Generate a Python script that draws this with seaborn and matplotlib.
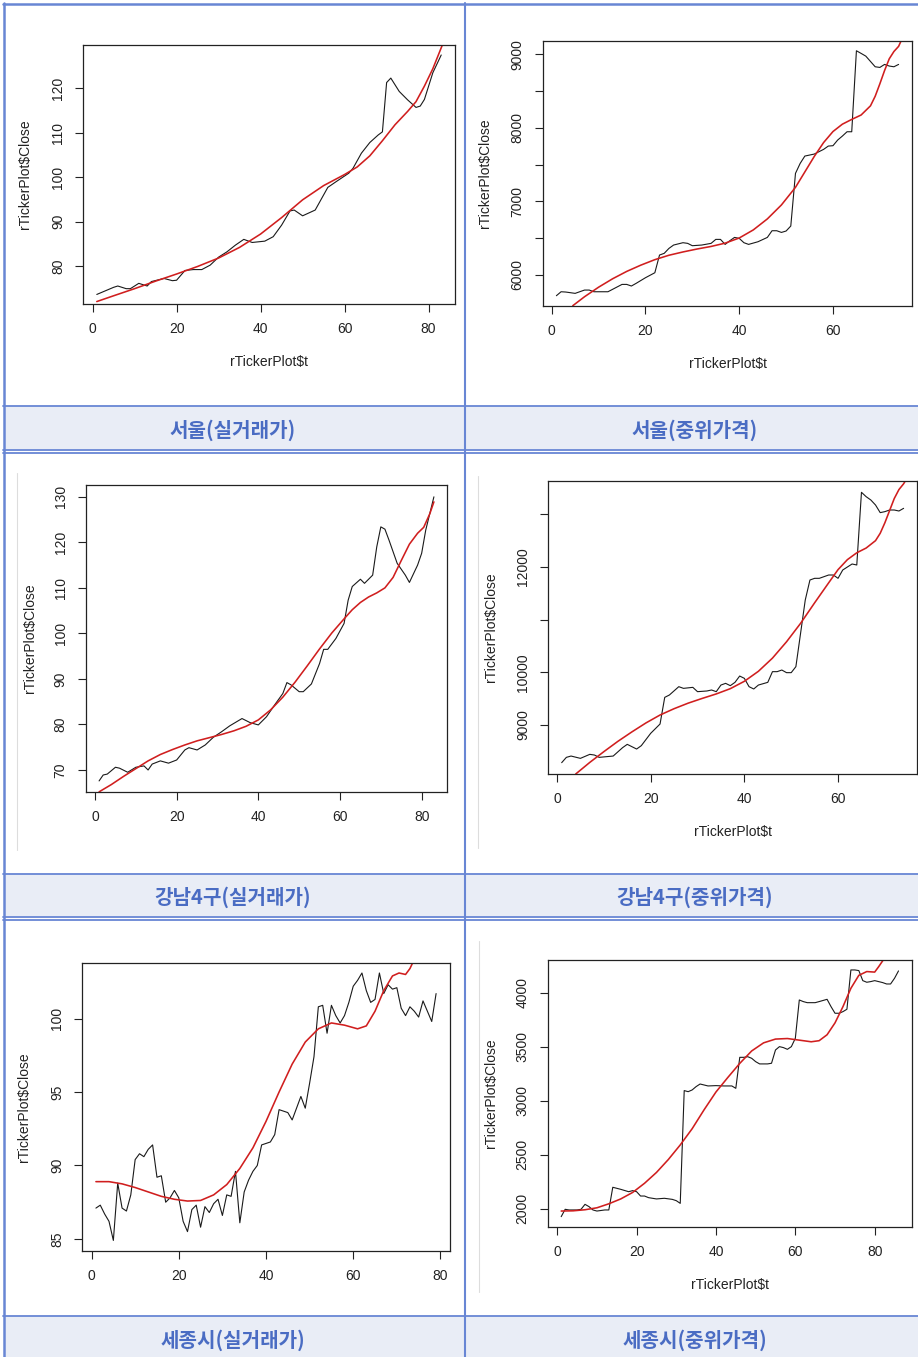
import matplotlib
matplotlib.use("Agg")
import matplotlib.pyplot as plt
import seaborn as sns
import pandas as pd
from matplotlib.lines import Line2D
from matplotlib.patches import Rectangle

# ---------------- data ----------------
# 서울(실거래가)
p1_t = [1, 3, 5, 6, 8, 9, 11, 13, 14, 17, 19, 20, 22, 24, 26, 28, 30, 32, 34, 36, 38, 41, 43, 45, 47, 48,
        50, 53, 56, 58, 61, 62, 64, 66, 68, 69, 70, 71, 73, 75, 77, 78, 79, 81, 83]
p1_close = [73.6, 74.4, 75.2, 75.5, 74.9, 74.9, 76.1, 75.5, 76.5, 77.2, 76.7, 76.8, 79.0, 79.2, 79.2, 80.2,
            82.0, 83.2, 84.7, 86.0, 85.3, 85.6, 86.6, 89.2, 92.4, 92.6, 91.3, 92.6, 97.7, 99.0, 100.9, 102.0,
            105.4, 107.8, 109.5, 110.2, 121.3, 122.3, 119.3, 117.4, 115.7, 116.0, 117.5, 123.5, 127.5]
p1_fit_t = [1, 5, 10, 15, 20, 25, 30, 35, 40, 45, 50, 55, 60, 63, 66, 69, 72, 75, 77, 79, 81, 83.5]
p1_fit = [72.0, 73.3, 74.9, 76.6, 78.2, 79.9, 81.8, 84.2, 87.2, 90.9, 94.9, 98.1, 100.6, 102.3, 104.8,
          108.2, 111.8, 114.8, 117.0, 120.5, 124.4, 130.3]

# 서울(중위가격)
p2_t = [1, 2, 3, 5, 7, 8, 9, 12, 15, 16, 17, 18, 20, 22, 23, 24, 25, 26, 28, 29, 30, 32, 34, 35, 36, 37, 38,
        39, 40, 41, 42, 44, 46, 47, 48, 49, 50, 51, 52, 53, 54, 56, 58, 59, 60, 61, 62, 63, 64, 65, 66, 67,
        69, 70, 71, 72, 73, 74]
p2_close = [5714, 5768, 5764, 5746, 5791, 5791, 5768, 5768, 5868, 5868, 5846, 5882, 5959, 6027, 6268, 6291,
            6358, 6404, 6436, 6427, 6395, 6404, 6427, 6481, 6481, 6413, 6463, 6508, 6495, 6436, 6413, 6449,
            6508, 6599, 6599, 6576, 6595, 6663, 7380, 7516, 7616, 7643, 7707, 7752, 7757, 7834, 7888, 7947,
            7947, 9050, 9014, 8977, 8832, 8823, 8864, 8842, 8832, 8864]
p2_fit_t = [4.5, 7, 10, 13, 16, 19, 22, 25, 28, 31, 34, 37, 40, 43, 46, 49, 52, 54, 56, 58, 60, 62, 64, 66,
            68, 69, 70, 71, 72, 73, 74, 74.6]
p2_fit = [5578, 5700, 5830, 5945, 6045, 6130, 6205, 6265, 6310, 6350, 6385, 6430, 6500, 6610, 6760, 6950,
          7190, 7400, 7610, 7800, 7950, 8050, 8115, 8175, 8300, 8430, 8600, 8780, 8940, 9040, 9110, 9195]

# 강남4구(실거래가)
p3_t = [1, 2, 3, 5, 6, 8, 10, 12, 13, 14, 16, 18, 20, 22, 23, 25, 27, 29, 31, 33, 36, 38, 40, 42, 44, 46,
        47, 48, 50, 51, 53, 55, 56, 57, 59, 61, 62, 63, 65, 66, 68, 69, 70, 71, 72, 74, 76, 77, 79, 80, 81, 83]
p3_close = [67.6, 68.9, 69.1, 70.6, 70.4, 69.5, 70.6, 70.9, 70.0, 71.3, 72.0, 71.5, 72.2, 74.4, 74.9, 74.4,
            75.5, 77.2, 78.4, 79.7, 81.3, 80.4, 79.9, 81.7, 84.3, 86.8, 89.2, 88.7, 87.2, 87.2, 88.9, 93.4,
            96.5, 96.5, 98.9, 102.2, 107.3, 110.3, 111.9, 111.0, 112.8, 119.0, 123.4, 122.9, 120.5, 115.4,
            112.8, 111.2, 115.0, 117.6, 122.7, 130.0]
p3_fit_t = [1, 4, 7, 10, 13, 16, 19, 22, 25, 28, 31, 34, 37, 40, 43, 46, 49, 52, 55, 58, 61, 63, 65, 67, 69,
            71, 73, 75, 77, 79, 80.5, 82, 83]
p3_fit = [65.2, 66.8, 68.6, 70.3, 72.0, 73.4, 74.5, 75.5, 76.4, 77.1, 77.8, 78.6, 79.6, 81.0, 83.2, 86.0,
          89.3, 92.9, 96.6, 100.1, 103.2, 105.2, 106.8, 108.0, 108.9, 110.0, 112.3, 116.0, 119.6, 122.0,
          123.3, 126.3, 128.9]

# 강남4구(중위가격)
p4_t = [1, 2, 3, 5, 7, 8, 9, 12, 14, 15, 17, 18, 20, 22, 23, 24, 26, 27, 29, 30, 32, 33, 34, 35, 36, 37, 38,
        39, 40, 41, 42, 43, 45, 46, 47, 48, 49, 50, 51, 53, 54, 55, 56, 58, 59, 60, 61, 63, 64, 65, 66, 67,
        68, 69, 70, 71, 72, 73, 74]
p4_close = [8285, 8386, 8411, 8367, 8443, 8430, 8386, 8411, 8570, 8633, 8544, 8608, 8842, 9019, 9525, 9570,
            9728, 9696, 9715, 9633, 9646, 9665, 9633, 9759, 9791, 9747, 9810, 9930, 9886, 9728, 9684, 9759,
            9810, 10013, 10013, 10044, 9994, 9994, 10108, 11373, 11753, 11785, 11785, 11848, 11848, 11785,
            11943, 12057, 12038, 13418, 13335, 13272, 13177, 13032, 13051, 13082, 13082, 13063, 13114]
p4_fit_t = [4, 7, 10, 13, 16, 19, 22, 25, 28, 31, 34, 37, 40, 43, 46, 49, 52, 55, 58, 60, 62, 64, 66, 68,
            69, 70, 71, 72, 73, 74, 74.4]
p4_fit = [8070, 8290, 8494, 8690, 8870, 9040, 9190, 9310, 9415, 9505, 9590, 9690, 9830, 10020, 10270, 10580,
          10930, 11320, 11700, 11950, 12140, 12270, 12360, 12500, 12640, 12840, 13070, 13300, 13470, 13580,
          13640]

# 세종시(실거래가)
p5_t = list(range(1, 80))
p5_close = [87.1, 87.3, 86.7, 86.2, 84.9, 88.8, 87.1, 86.9, 88.0, 90.4, 90.8, 90.6, 91.1, 91.4, 89.2, 89.3,
            87.5, 87.8, 88.3, 87.8, 86.2, 85.5, 87.0, 87.3, 85.8, 87.2, 86.8, 87.4, 87.7, 86.6, 88.0, 87.9,
            89.6, 86.1, 88.2, 89.0, 89.6, 90.0, 91.4, 91.5, 91.6, 92.1, 93.8, 93.7, 93.6, 93.1, 93.9, 94.7,
            93.9, 95.6, 97.4, 100.8, 100.9, 99.0, 100.9, 100.2, 99.7, 100.2, 101.1, 102.2, 102.6, 103.1,
            101.9, 101.1, 101.3, 103.1, 101.7, 102.3, 102.0, 102.1, 100.7, 100.2, 100.8, 100.5, 100.1, 101.2,
            100.5, 99.8, 101.7]
p5_fit_t = [1, 4, 7, 10, 13, 16, 19, 22, 25, 28, 31, 34, 37, 40, 43, 46, 49, 52, 55, 58, 61, 63, 65, 67, 69,
            70.5, 72, 73, 73.8]
p5_fit = [88.9, 88.9, 88.75, 88.5, 88.2, 87.9, 87.7, 87.58, 87.62, 88.0, 88.7, 89.8, 91.2, 93.0, 95.0, 96.9,
          98.4, 99.3, 99.7, 99.55, 99.3, 99.5, 100.5, 101.9, 102.9, 103.1, 103.0, 103.4, 103.9]

# 세종시(중위가격)
p6_t = [1, 2, 3, 5, 6, 7, 8, 9, 10, 12, 13, 14, 16, 18, 19, 20, 21, 22, 23, 25, 27, 29, 30, 31, 32, 33, 34,
        35, 36, 37, 38, 40, 42, 44, 45, 46, 47, 48, 49, 50, 51, 53, 54, 55, 56, 57, 58, 59, 60, 61, 62, 63,
        64, 65, 66, 68, 69, 70, 71, 72, 73, 74, 75, 76, 77, 78, 79, 80, 82, 83, 84, 85, 86]
p6_close = [1926, 1994, 1988, 1988, 1994, 2040, 2019, 1988, 1978, 1988, 1988, 2198, 2179, 2157, 2167, 2157,
            2117, 2117, 2102, 2090, 2096, 2086, 2074, 2049, 3093, 3083, 3099, 3130, 3154, 3145, 3136, 3139,
            3136, 3136, 3114, 3401, 3401, 3407, 3392, 3361, 3340, 3340, 3346, 3469, 3500, 3491, 3475, 3500,
            3577, 3932, 3917, 3907, 3907, 3907, 3917, 3938, 3870, 3809, 3809, 3824, 3846, 4210, 4210, 4204,
            4111, 4096, 4102, 4111, 4093, 4080, 4080, 4133, 4201]
p6_fit_t = [1, 4, 7, 10, 13, 16, 19, 22, 25, 28, 31, 34, 37, 40, 43, 46, 49, 52, 55, 58, 61, 64, 66, 68, 70,
            72, 74, 76, 78, 80, 81, 82.3]
p6_fit = [1978, 1980, 1990, 2008, 2045, 2090, 2150, 2235, 2335, 2455, 2590, 2740, 2915, 3080, 3215, 3345,
          3460, 3535, 3570, 3575, 3560, 3545, 3555, 3610, 3720, 3870, 4040, 4160, 4195, 4190, 4240, 4310]

# tick labels
p1_yticks = [80, 90, 100, 110, 120]
p2_yticks = [6000, 6500, 7000, 7500, 8000, 8500, 9000]
p2_ylabels = ["6000", "", "7000", "", "8000", "", "9000"]
p3_yticks = [70, 80, 90, 100, 110, 120, 130]
p4_yticks = [9000, 10000, 11000, 12000, 13000]
p4_ylabels = ["9000", "10000", "", "12000", ""]
p5_yticks = [85, 90, 95, 100]
p6_yticks = [2000, 2500, 3000, 3500, 4000]
xticks_80 = [0, 20, 40, 60, 80]
xticks_60 = [0, 20, 40, 60]

titles = ["서울(실거래가)", "서울(중위가격)", "강남4구(실거래가)", "강남4구(중위가격)",
          "세종시(실거래가)", "세종시(중위가격)"]
x_label = "rTickerPlot$t"
y_label = "rTickerPlot$Close"

# ---------------- style ----------------
sns.set_style("white")
plt.rcParams["font.family"] = ["Liberation Sans", "Noto Sans CJK KR", "DejaVu Sans"]

W, H = 918, 1357
fig = plt.figure(figsize=(W / 100, H / 100), dpi=100)
fig.patch.set_facecolor("white")

BLUE = "#6886D4"
FILL = "#E9EDF6"
TXT = "#4A6CC3"


def fx(x):
    return x / W


def fy(y):
    return 1 - y / H


def hline(y, x0=3, x1=918, lw=1.3, color=BLUE):
    fig.add_artist(Line2D([fx(x0), fx(x1)], [fy(y), fy(y)], color=color, lw=lw, transform=fig.transFigure))


def vline(x, y0, y1, lw=1.3, color=BLUE):
    fig.add_artist(Line2D([fx(x), fx(x)], [fy(y0), fy(y1)], color=color, lw=lw, transform=fig.transFigure))


# banners (fill)
for (top, bot) in [(406, 449), (874, 916), (1316, 1357)]:
    fig.add_artist(Rectangle((fx(4), fy(bot)), (W - 4) / W, (bot - top) / H, facecolor=FILL,
                             edgecolor="none", transform=fig.transFigure, zorder=0))

# faint gray crop lines
vline(17, 473, 850, lw=0.8, color="#DDDDDD")
vline(478, 476, 848, lw=0.8, color="#DDDDDD")
vline(479, 941, 1292, lw=0.8, color="#DDDDDD")

# border lines
hline(3.8, lw=1.8)
vline(3.8, 3, 1357, lw=1.8)
vline(464.5, 3, 1357, lw=1.5)
hline(405.5)
hline(449.8)
hline(453.2)
hline(873.5)
hline(916.5)
hline(919.8)
hline(1315.5)

panels = [
    dict(t=p1_t, c=p1_close, ft=p1_fit_t, f=p1_fit, box=(83, 455, 45, 304), xlim=(-2.28, 86.28),
         ylim=(71.45, 129.75), xt=xticks_80, yt=p1_yticks, yl=[str(v) for v in p1_yticks], xlab=True,
         ylx=25),
    dict(t=p2_t, c=p2_close, ft=p2_fit_t, f=p2_fit, box=(542.7, 912.3, 40.7, 305.7), xlim=(-1.92, 76.92),
         ylim=(5578, 9187), xt=xticks_60, yt=p2_yticks, yl=p2_ylabels, xlab=True, ylx=485),
    dict(t=p3_t, c=p3_close, ft=p3_fit_t, f=p3_fit, box=(85.7, 447.3, 485, 792.3), xlim=(-2.28, 86.28),
         ylim=(65.1, 132.6), xt=xticks_80, yt=p3_yticks, yl=[str(v) for v in p3_yticks], xlab=False,
         ylx=30),
    dict(t=p4_t, c=p4_close, ft=p4_fit_t, f=p4_fit, box=(548, 917.3, 481.3, 774), xlim=(-1.92, 76.92),
         ylim=(8070, 13627), xt=xticks_60, yt=p4_yticks, yl=p4_ylabels, xlab=True, ylx=490.7),
    dict(t=p5_t, c=p5_close, ft=p5_fit_t, f=p5_fit, box=(82.3, 449.7, 963, 1251.3), xlim=(-2.12, 82.12),
         ylim=(84.16, 103.78), xt=xticks_80, yt=p5_yticks, yl=[str(v) for v in p5_yticks], xlab=False,
         ylx=24),
    dict(t=p6_t, c=p6_close, ft=p6_fit_t, f=p6_fit, box=(547.7, 912, 960, 1226.7), xlim=(-2.4, 89.4),
         ylim=(1833, 4302), xt=xticks_80, yt=p6_yticks, yl=[str(v) for v in p6_yticks], xlab=True,
         ylx=490.7),
]

for p in panels:
    l, r, t, b = p["box"]
    ax = fig.add_axes([fx(l), fy(b), (r - l) / W, (b - t) / H])
    ax.set_facecolor("none")
    df = pd.DataFrame({"t": p["t"], "close": p["c"]})
    dfit = pd.DataFrame({"t": p["ft"], "fit": p["f"]})
    sns.lineplot(data=df, x="t", y="close", ax=ax, color="#1a1a1a", lw=0.8, sort=False, estimator=None)
    sns.lineplot(data=dfit, x="t", y="fit", ax=ax, color="#D01E1E", lw=1.15, sort=False, estimator=None)
    ax.set_xlim(*p["xlim"])
    ax.set_ylim(*p["ylim"])
    ax.set_xticks(p["xt"])
    ax.set_xticklabels([str(v) for v in p["xt"]])
    ax.set_yticks(p["yt"])
    ax.set_yticklabels(p["yl"], rotation=90, va="center")
    ax.tick_params(axis="both", direction="out", length=5.5, width=0.8, color="#222222", pad=7.5,
                   labelsize=10, labelcolor="#222222", bottom=True, left=True)
    for s in ax.spines.values():
        s.set_color("#222222")
        s.set_linewidth(0.9)
        s.set_visible(True)
    ax.set_xlabel("")
    ax.set_ylabel("")
    if p["xlab"]:
        ax.annotate(x_label, xy=(0.5, 0), xycoords="axes fraction", xytext=(0, -58 * 0.72),
                    textcoords="offset points", ha="center", va="center", fontsize=10, color="#222222")
    ax.annotate(y_label, xy=(0, 0.5), xycoords="axes fraction", xytext=(-(l - p["ylx"]) * 0.72, 0),
                textcoords="offset points", ha="center", va="center", rotation=90, fontsize=10,
                color="#222222")

# banner captions
cap_pos = [(233, 430), (695, 430), (233, 897), (695, 897), (233, 1340), (695, 1340)]
for (x, y), txt in zip(cap_pos, titles):
    fig.text(fx(x), fy(y), txt, ha="center", va="center", fontsize=14.5, fontweight="bold", color=TXT,
             family=["Noto Sans CJK KR", "DejaVu Sans"])

fig.savefig("out.png", dpi=100)
